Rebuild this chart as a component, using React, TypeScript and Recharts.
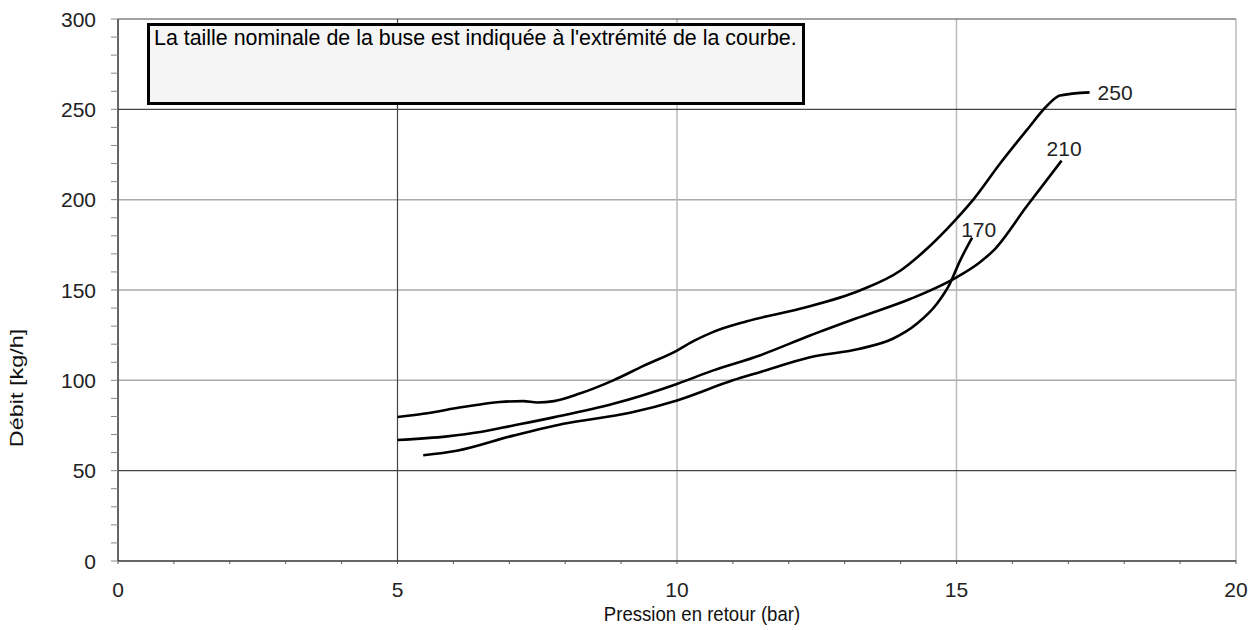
import React from "react";
import { LineChart, Line, XAxis, YAxis, ReferenceLine } from "recharts";

// ---- data ----
const nozzle250 = [
  { x: 5, y: 79.7 }, { x: 5.46, y: 81.5 }, { x: 6.17, y: 85.2 }, { x: 6.83, y: 88 },
  { x: 7.25, y: 88.5 }, { x: 7.5, y: 87.7 }, { x: 7.8, y: 88.5 }, { x: 8.26, y: 92.7 },
  { x: 8.86, y: 100 }, { x: 9.4, y: 108 }, { x: 10, y: 116.5 }, { x: 10.3, y: 121.8 },
  { x: 10.64, y: 126.7 }, { x: 11.25, y: 132.7 }, { x: 12.2, y: 139.6 }, { x: 13.27, y: 149.7 },
  { x: 14, y: 160.8 }, { x: 14.47, y: 172.8 }, { x: 14.97, y: 188.4 }, { x: 15.3, y: 200 },
  { x: 15.78, y: 220 }, { x: 16.26, y: 238.6 }, { x: 16.62, y: 252 }, { x: 16.85, y: 257.6 },
  { x: 17.38, y: 259.4 },
];
const nozzle210 = [
  { x: 5, y: 67 }, { x: 5.89, y: 69 }, { x: 6.48, y: 71.4 }, { x: 7.07, y: 75 },
  { x: 7.79, y: 79.5 }, { x: 8.86, y: 87 }, { x: 10, y: 98 }, { x: 10.65, y: 105.5 },
  { x: 11.48, y: 113.8 }, { x: 12.38, y: 124.8 }, { x: 13.27, y: 135 }, { x: 14.17, y: 145 },
  { x: 15, y: 157 }, { x: 15.42, y: 165.4 }, { x: 15.66, y: 171.8 }, { x: 16.26, y: 196.5 },
  { x: 16.88, y: 221.6 },
];
const nozzle170 = [
  { x: 5.46, y: 58.5 }, { x: 6.06, y: 61 }, { x: 7.07, y: 69.4 }, { x: 7.97, y: 76 },
  { x: 9.16, y: 82 }, { x: 10, y: 88.9 }, { x: 11, y: 100 }, { x: 11.48, y: 104.5 },
  { x: 12.38, y: 112.8 }, { x: 13.27, y: 117.5 }, { x: 13.86, y: 123 }, { x: 14.29, y: 131.3 },
  { x: 14.65, y: 142.4 }, { x: 14.88, y: 153.4 }, { x: 15.06, y: 166 }, { x: 15.28, y: 179 },
];

const xTicks = Array.from({ length: 21 }, (_, i) => i);
const yTicks = Array.from({ length: 31 }, (_, i) => i * 10);
const xLabelTicks = [0, 5, 10, 15, 20];
const yLabelTicks = [0, 50, 100, 150, 200, 250, 300];

const darkGridX = [5];
const lightGridX = [10, 15, 20];
const darkGridY = [50, 250, 300];
const lightGridY = [100, 150, 200];

const FONT = "'Liberation Sans', Arial, sans-serif";

function XTick({ x, y, payload }: any) {
  if (!xLabelTicks.includes(payload.value)) return null;
  return (
    <text x={x} y={y} dy="0.71em" textAnchor="middle" fontSize={21} fill="#222" fontFamily={FONT}>
      {payload.value}
    </text>
  );
}

function YTick({ x, y, payload }: any) {
  if (!yLabelTicks.includes(payload.value)) return null;
  return (
    <text x={x} y={y} dy="0.36em" textAnchor="end" fontSize={21} fill="#222" fontFamily={FONT}>
      {payload.value}
    </text>
  );
}

function endLabel(text: string, len: number, dx: number, dy: number) {
  return (props: any) => {
    if (props.index !== len - 1) return null;
    return (
      <text
        x={props.x + dx}
        y={props.y + dy}
        dy="0.36em"
        fontSize={21}
        fill="#222"
        fontFamily={FONT}
      >
        {text}
      </text>
    );
  };
}

export default function App() {
  return (
    <div style={{ position: "absolute", left: 0, top: 0, width: 1256, height: 630, background: "#fff" }}>
      <LineChart width={1256} height={630} margin={{ top: 19, right: 20, bottom: 39, left: 58 }}>
        <XAxis
          type="number"
          dataKey="x"
          domain={[0, 20]}
          ticks={xTicks}
          interval={0}
          tick={<XTick />}
          tickSize={3}
          tickMargin={18}
          height={30}
          axisLine={{ stroke: "#333", strokeWidth: 1.5 }}
          tickLine={{ stroke: "#555" }}
        />
        <YAxis
          type="number"
          domain={[0, 300]}
          ticks={yTicks}
          interval={0}
          tick={<YTick />}
          tickSize={7}
          tickMargin={15}
          width={60}
          axisLine={{ stroke: "#333", strokeWidth: 1.5 }}
          tickLine={{ stroke: "#888" }}
        />
        {lightGridY.map((v) => (
          <ReferenceLine key={"ly" + v} y={v} stroke="#aaa" strokeWidth={1.5} />
        ))}
        {lightGridX.map((v) => (
          <ReferenceLine key={"lx" + v} x={v} stroke="#bbb" strokeWidth={1.5} />
        ))}
        {darkGridY.map((v) => (
          <ReferenceLine key={"dy" + v} y={v} stroke="#444" strokeWidth={1.2} />
        ))}
        {darkGridX.map((v) => (
          <ReferenceLine key={"dx" + v} x={v} stroke="#444" strokeWidth={1.2} />
        ))}
        <Line
          data={nozzle250}
          dataKey="y"
          type="monotone"
          stroke="#000"
          strokeWidth={2.6}
          dot={false}
          isAnimationActive={false}
          label={endLabel("250", nozzle250.length, 8, 0)}
        />
        <Line
          data={nozzle210}
          dataKey="y"
          type="monotone"
          stroke="#000"
          strokeWidth={2.6}
          dot={false}
          isAnimationActive={false}
          label={endLabel("210", nozzle210.length, -15, -12)}
        />
        <Line
          data={nozzle170}
          dataKey="y"
          type="monotone"
          stroke="#000"
          strokeWidth={2.6}
          dot={false}
          isAnimationActive={false}
          label={endLabel("170", nozzle170.length, -11, -8)}
        />
      </LineChart>

      <div
        style={{
          position: "absolute",
          left: 147,
          top: 23,
          width: 648,
          height: 76,
          border: "3px solid #000",
          background: "#f5f5f5",
          fontFamily: FONT,
          fontSize: 21.4,
          color: "#000",
          padding: "0 0 0 4px",
          boxSizing: "content-box",
          lineHeight: "24px",
          whiteSpace: "nowrap",
          overflow: "hidden",
        }}
      >
        La taille nominale de la buse est indiquée à l'extrémité de la courbe.
      </div>

      <div
        style={{
          position: "absolute",
          left: 602,
          top: 603,
          width: 200,
          textAlign: "center",
          fontFamily: FONT,
          fontSize: 18.6,
          color: "#111",
          whiteSpace: "nowrap",
          transform: "scaleY(1.1)",
        }}
      >
        Pression en retour (bar)
      </div>

      <div
        style={{
          position: "absolute",
          left: 17,
          top: 388,
          transform: "translate(-50%, -50%) rotate(-90deg) scaleX(1.3)",
          fontFamily: FONT,
          fontSize: 18,
          color: "#111",
          whiteSpace: "nowrap",
        }}
      >
        Débit [kg/h]
      </div>
    </div>
  );
}
